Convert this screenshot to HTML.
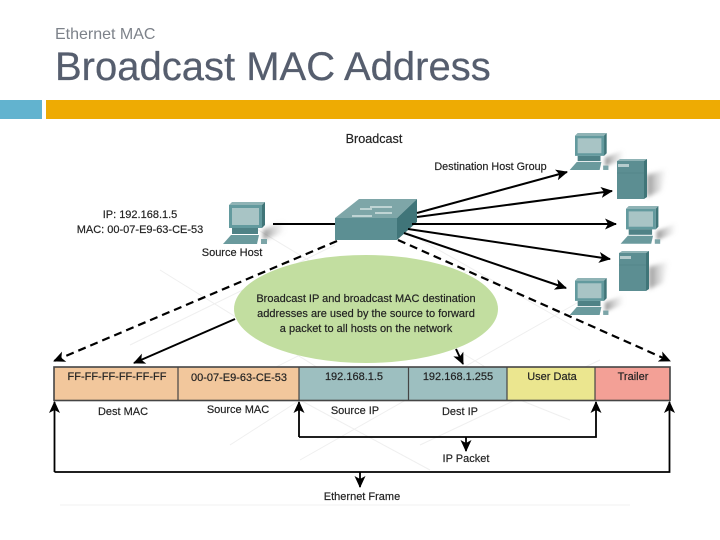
<!DOCTYPE html>
<html><head><meta charset="utf-8"><style>
html,body{margin:0;padding:0;background:#fff}
svg{display:block}
text{font-family:"Liberation Sans",Arial,sans-serif}
.l{font-size:11px;fill:#222;text-anchor:middle;stroke:#222;stroke-width:.18}
</style></head><body>
<svg width="720" height="540" viewBox="0 0 720 540" xmlns="http://www.w3.org/2000/svg">
<defs>
<filter id="soft" x="-5%" y="-5%" width="110%" height="110%"><feGaussianBlur stdDeviation=".35"/></filter>
<filter id="blur" x="-50%" y="-50%" width="200%" height="200%"><feGaussianBlur stdDeviation="2"/></filter>
<marker id="a" viewBox="0 0 12 12" refX="11" refY="6" markerWidth="12" markerHeight="12" markerUnits="userSpaceOnUse" orient="auto"><path d="M0 .5L12 6L0 11.500L3 6Z" fill="#000"/></marker>
<linearGradient id="sh" x1="0" x2="1"><stop offset="0" stop-color="#666" stop-opacity=".7"/><stop offset="1" stop-color="#aaa" stop-opacity="0"/></linearGradient>
<g id="pc">
<path d="M34 28L56 19V30L34 38Z" fill="url(#sh)" filter="url(#blur)"/>
<path d="M0 3L3 0H36L33 3Z" fill="#8fb3b5"/>
<path d="M33 3L36 0V23L33 26Z" fill="#3f7478"/>
<rect x="0" y="3" width="33" height="23" fill="#649a9e"/>
<rect x="3" y="6" width="27" height="17" fill="#a8c4c5"/>
<rect x="3" y="26" width="26" height="6" fill="#4f8286"/>
<path d="M-6 42L2 33H30L28 42Z" fill="#6b9a9d"/>
<rect x="32" y="37" width="6" height="5" fill="#7ba5a8"/>
</g>
<g id="srv">
<path d="M30 16L50 10L44 32L30 38Z" fill="url(#sh)" filter="url(#blur)"/>
<path d="M0 2L3 0H30L27 2Z" fill="#8fb3b5"/>
<path d="M27 2L30 0V38L27 40Z" fill="#3f7478"/>
<rect x="0" y="2" width="27" height="38" fill="#5b8e92"/>
<rect x="1" y="5" width="11" height="3" fill="#b6cccd"/>
<line x1="0" y1="14" x2="27" y2="14" stroke="#4b7e82" stroke-width=".6"/>
</g>
</defs>

<text x="55" y="39" font-size="16" fill="#7d828a">Ethernet MAC</text>
<text x="55" y="80" font-size="40" fill="#565e6e" stroke="#565e6e" stroke-width=".25">Broadcast MAC Address</text>
<rect x="0" y="100" width="42" height="19" fill="#62b3cf"/>
<rect x="46" y="100" width="674" height="19" fill="#eeab03"/>

<g filter="url(#soft)">
<g stroke="#efefef" stroke-width="1" fill="none">
<line x1="160" y1="270" x2="370" y2="400"/>
<line x1="250" y1="225" x2="540" y2="400"/>
<line x1="400" y1="228" x2="580" y2="330"/>
<line x1="130" y1="345" x2="335" y2="245"/>
<line x1="210" y1="400" x2="470" y2="270"/>
<line x1="300" y1="460" x2="600" y2="290"/>
<line x1="420" y1="445" x2="600" y2="360"/>
<line x1="300" y1="400" x2="430" y2="470"/>
<line x1="230" y1="445" x2="300" y2="400"/>
<line x1="520" y1="400" x2="570" y2="420"/>
<line x1="60" y1="505" x2="630" y2="505" stroke="#f2f2f2"/>
</g>

<ellipse cx="366" cy="309" rx="132" ry="54" fill="#c2dea0"/>

<use href="#pc" x="229" y="202"/>
<g transform="translate(575,133) scale(.88)"><use href="#pc"/></g>
<g transform="translate(626,206) scale(.9)"><use href="#pc"/></g>
<g transform="translate(575,278) scale(.88)"><use href="#pc"/></g>
<use href="#srv" x="617" y="159"/>
<use href="#srv" x="619" y="251"/>

<path d="M335 218L359 199H417L397 218Z" fill="#7ea6a8"/>
<path d="M397 218L417 199V222L397 240Z" fill="#3f7579"/>
<rect x="335" y="218" width="62" height="22" fill="#5b8f93"/>
<g stroke="#e6efef" stroke-width="1.2"><line x1="352" y1="216" x2="372" y2="216"/><line x1="370" y1="207" x2="392" y2="207"/><line x1="375" y1="213" x2="392" y2="213"/><line x1="360" y1="209" x2="372" y2="209"/></g>

<g stroke="#000" stroke-width="2" fill="none" marker-end="url(#a)">
<line x1="417" y1="213" x2="567" y2="172"/>
<line x1="417" y1="217" x2="612" y2="191"/>
<line x1="412" y1="224" x2="616" y2="224"/>
<line x1="408" y1="229" x2="610" y2="259"/>
<line x1="404" y1="233" x2="566" y2="288"/>
<line x1="235" y1="319" x2="134" y2="363"/>
<line x1="456" y1="349" x2="463" y2="364"/>
<line x1="337" y1="241" x2="54" y2="361" stroke-dasharray="8 5" stroke-width="2.200"/>
<line x1="398" y1="240" x2="670" y2="361" stroke-dasharray="8 5" stroke-width="2.200"/>
</g>
<line x1="273" y1="224" x2="335" y2="224" stroke="#000" stroke-width="2"/>

<rect x="54" y="367" width="245" height="33.5" fill="#f2c79c"/>
<rect x="299" y="367" width="208" height="33.5" fill="#9dbfc0"/>
<rect x="507" y="367" width="88" height="33.5" fill="#ebe68f"/>
<rect x="595" y="367" width="75" height="33.5" fill="#f3a096"/>
<rect x="54" y="367" width="616" height="33.5" fill="none" stroke="#444" stroke-width="1.6"/>
<g stroke="#444" stroke-width="1.2"><line x1="178" y1="367" x2="178" y2="400"/><line x1="299" y1="367" x2="299" y2="400"/><line x1="408.500" y1="367" x2="408.500" y2="400"/><line x1="507" y1="367" x2="507" y2="400"/><line x1="595" y1="367" x2="595" y2="400"/></g>

<g stroke="#000" stroke-width="1.8" fill="none">
<path d="M54.500 472V402" marker-end="url(#a)"/>
<path d="M54.500 472H669.500V402" marker-end="url(#a)"/>
<path d="M299 437V402" marker-end="url(#a)"/>
<path d="M299 437H596V402" marker-end="url(#a)"/>
<path d="M466 437V451" marker-end="url(#a)"/>
<path d="M360 472V487" marker-end="url(#a)"/>
</g>

<text class="l" x="374" y="143" style="font-size:12.600px">Broadcast</text>
<text class="l" x="490.500" y="170" style="font-size:10.800px">Destination Host Group</text>
<text class="l" x="140" y="218">IP: 192.168.1.5</text>
<text class="l" x="140" y="233">MAC: 00-07-E9-63-CE-53</text>
<text class="l" x="232" y="256">Source Host</text>
<text class="l" x="366" y="302">Broadcast IP and broadcast MAC destination</text>
<text class="l" x="366" y="317">addresses are used by the source to forward</text>
<text class="l" x="366" y="332">a packet to all hosts on the network</text>
<text class="l" x="117" y="380">FF-FF-FF-FF-FF-FF</text>
<text class="l" x="239" y="381">00-07-E9-63-CE-53</text>
<text class="l" x="354" y="380">192.168.1.5</text>
<text class="l" x="458" y="380">192.168.1.255</text>
<text class="l" x="552" y="380">User Data</text>
<text class="l" x="633" y="380">Trailer</text>
<text class="l" x="123" y="415">Dest MAC</text>
<text class="l" x="238" y="413">Source MAC</text>
<text class="l" x="355" y="414">Source IP</text>
<text class="l" x="460" y="415">Dest IP</text>
<text class="l" x="466" y="462">IP Packet</text>
<text class="l" x="362" y="500">Ethernet Frame</text>
</g>
</svg>
</body></html>
